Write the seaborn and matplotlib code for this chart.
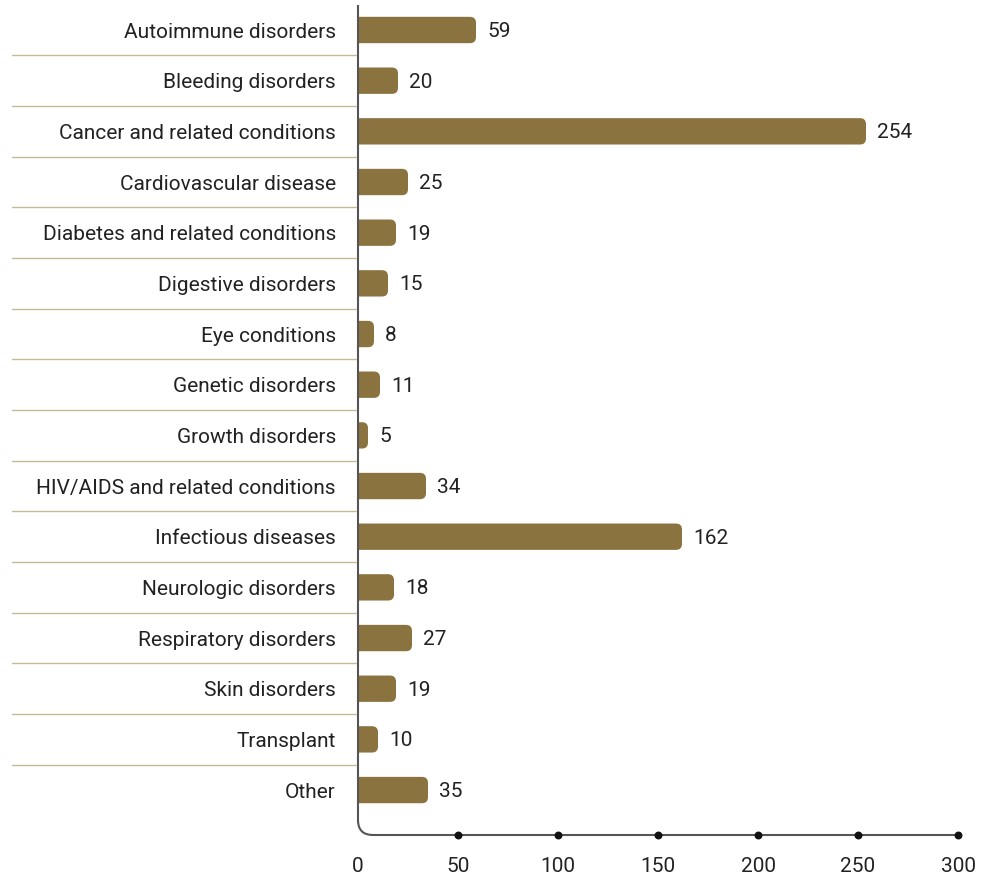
import matplotlib
matplotlib.use("Agg")
import matplotlib.pyplot as plt
import seaborn as sns
import pandas as pd
import numpy as np
from matplotlib.patches import FancyBboxPatch, PathPatch
from matplotlib.path import Path
from matplotlib.lines import Line2D
import matplotlib.transforms as mtransforms

categories = ["Autoimmune disorders", "Bleeding disorders", "Cancer and related conditions",
              "Cardiovascular disease", "Diabetes and related conditions", "Digestive disorders",
              "Eye conditions", "Genetic disorders", "Growth disorders",
              "HIV/AIDS and related conditions", "Infectious diseases", "Neurologic disorders",
              "Respiratory disorders", "Skin disorders", "Transplant", "Other"]
values = [59, 20, 254, 25, 19, 15, 8, 11, 5, 34, 162, 18, 27, 19, 10, 35]
xticks = [0, 50, 100, 150, 200, 250, 300]

BAR = "#8b7340"
SEP = "#c4ba98"
TXT = "#222222"
AX = "#555555"
FS = 15

sns.set_style("white")
plt.rcParams["font.family"] = ["Roboto", "DejaVu Sans"]

W, H = 990, 880
fig = plt.figure(figsize=(W / 100, H / 100), dpi=100)
ax_left, ax_right = 358, 958
ax_top, ax_bot = 5, 835
ax = fig.add_axes([ax_left / W, 1 - ax_bot / H, (ax_right - ax_left) / W, (ax_bot - ax_top) / H])

df = pd.DataFrame({"category": categories, "value": values})
sns.barplot(data=df, x="value", y="category", orient="h", color=BAR, width=0.52,
            saturation=1, ax=ax)

row_px = 50.67
ylo = -(30 - ax_top) / row_px
yhi = (ax_bot - 30) / row_px
ax.set_xlim(0, 300)
ax.set_ylim(yhi, ylo)

# rounded bars
px_per_x = (ax_right - ax_left) / 300
r_px = 6
r_x = r_px / px_per_x
aspect = (r_px / row_px) / r_x
for p in list(ax.patches):
    x0, y0 = p.get_x(), p.get_y()
    w, h = p.get_width(), p.get_height()
    p.remove()
    fb = FancyBboxPatch((x0 - 10, y0), w + 10, h,
                        boxstyle=f"round,pad=0,rounding_size={r_x}",
                        mutation_aspect=aspect, facecolor=BAR, edgecolor="none")
    ax.add_patch(fb)

for i, v in enumerate(values):
    ax.text(v + 5.5, i + 0.03, str(v), va="center", ha="left", fontsize=FS, color=TXT)

for s in ax.spines.values():
    s.set_visible(False)

ax.set_xlabel("")
ax.set_ylabel("")
ax.set_xticks(xticks)
ax.set_xticklabels([str(t) for t in xticks])
ax.tick_params(axis="x", length=0, pad=16, labelsize=FS, labelcolor=TXT)
ax.tick_params(axis="y", length=0, pad=16, labelsize=FS, labelcolor=TXT)

# separators
blend = mtransforms.blended_transform_factory(fig.transFigure, ax.transData)
for i in range(len(categories) - 1):
    ax.add_line(Line2D([12 / W, 356 / W], [i + 0.5, i + 0.5], transform=blend,
                       color=SEP, lw=1.0, clip_on=False))

# axis with rounded corner (axes coords)
aw, ah = ax_right - ax_left, ax_bot - ax_top
rc = 15
verts = [(0, 1), (0, rc / ah), (0, 0), (rc / aw, 0), (1, 0)]
codes = [Path.MOVETO, Path.LINETO, Path.CURVE3, Path.CURVE3, Path.LINETO]
ax.add_patch(PathPatch(Path(verts, codes), transform=ax.transAxes, facecolor="none",
                       edgecolor=AX, lw=1.5, clip_on=False))
dots = pd.DataFrame({"x": xticks[1:], "y": [yhi] * (len(xticks) - 1)})
ax.scatter(dots["x"], dots["y"], s=22, color="#111111", zorder=5, clip_on=False)

fig.savefig("out.png", dpi=100)
